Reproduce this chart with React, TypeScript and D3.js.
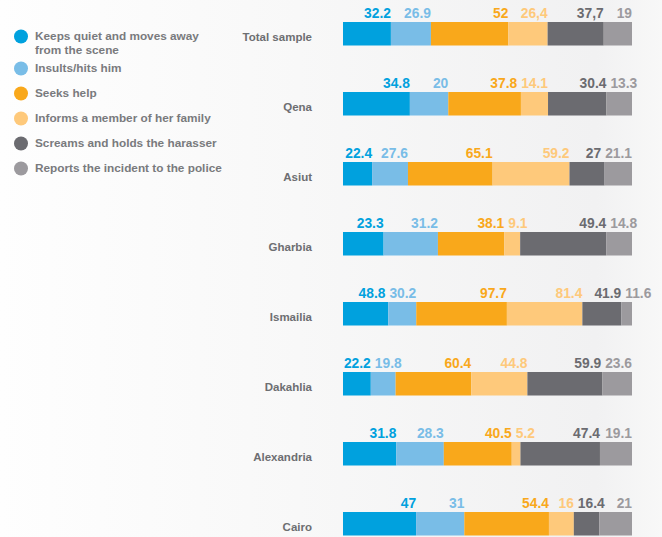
import React, { useEffect, useRef } from 'react';
import * as d3 from 'd3';

// responses of women to harassment, by governorate
const categories = ['Total sample', 'Qena', 'Asiut', 'Gharbia', 'Ismailia', 'Dakahlia', 'Alexandria', 'Cairo'];

const keepsQuiet = [32.2, 34.8, 22.4, 23.3, 48.8, 22.2, 31.8, 47];
const insultsHits = [26.9, 20, 27.6, 31.2, 30.2, 19.8, 28.3, 31];
const seeksHelp = [52, 37.8, 65.1, 38.1, 97.7, 60.4, 40.5, 54.4];
const informsFamily = [26.4, 14.1, 59.2, 9.1, 81.4, 44.8, 5.2, 16];
const screamsHolds = [37.7, 30.4, 27, 49.4, 41.9, 59.9, 47.4, 16.4];
const reportsPolice = [19, 13.3, 21.1, 14.8, 11.6, 23.6, 19.1, 21];

const seriesNames = [
  ['Keeps quiet and moves away', 'from the scene'],
  ['Insults/hits him'],
  ['Seeks help'],
  ['Informs a member of her family'],
  ['Screams and holds the harasser'],
  ['Reports the incident to the police'],
];
const colors = ['#00a1de', '#79bde7', '#f9a81b', '#fec97b', '#6b6b70', '#9c9a9e'];

// the source prints these two with a decimal comma
const commaLabels = [
  [0, 3],
  [0, 4],
];

const W = 662;
const H = 537;
const FONT = '"Liberation Sans", Arial, Helvetica, sans-serif';

export default function App() {
  const ref = useRef<SVGSVGElement>(null);

  useEffect(() => {
    document.body.style.margin = '0';
    render();
  }, []);

  const render = () => {
    const svg = d3.select(ref.current);
    svg.selectAll('*').remove();

    const series = [keepsQuiet, insultsHits, seeksHelp, informsFamily, screamsHolds, reportsPolice];

    // background
    const grad = svg
      .append('defs')
      .append('linearGradient')
      .attr('id', 'bg')
      .attr('x1', 0)
      .attr('x2', 1)
      .attr('y1', 0)
      .attr('y2', 0);
    grad.append('stop').attr('offset', '0%').attr('stop-color', '#fefefe');
    grad.append('stop').attr('offset', '45%').attr('stop-color', '#f8f8f8');
    grad.append('stop').attr('offset', '90%').attr('stop-color', '#f1f1f2');
    grad.append('stop').attr('offset', '100%').attr('stop-color', '#f8f8f8');
    svg.append('rect').attr('width', W).attr('height', H).attr('fill', 'url(#bg)');

    // rows
    const y = d3.scaleLinear().domain([0, 1]).range([22, 92]);
    const barH = 23.5;
    const x0 = 343;
    const x1 = 632;
    const gap = 4;

    categories.forEach((cat, i) => {
      const top = y(i);
      const vals = series.map((s) => s[i]);
      const total = d3.sum(vals);
      const x = d3.scaleLinear().domain([0, total]).range([x0, x1]);
      const g = svg.append('g');

      g.append('text')
        .attr('x', 312)
        .attr('y', top + 18.5)
        .attr('text-anchor', 'end')
        .attr('font-family', FONT)
        .attr('font-weight', 'bold')
        .attr('font-size', 11.5)
        .attr('fill', '#6d6e71')
        .text(cat);

      let acc = 0;
      const segs = vals.map((v) => {
        const s = { start: acc, end: acc + v, v };
        acc += v;
        return s;
      });

      g.selectAll('rect')
        .data(segs)
        .enter()
        .append('rect')
        .attr('x', (d) => x(d.start))
        .attr('y', top)
        .attr('width', (d) => x(d.end) - x(d.start))
        .attr('height', barH)
        .attr('fill', (d, j) => colors[j]);

      const labels = g
        .selectAll('text.val')
        .data(segs)
        .enter()
        .append('text')
        .attr('class', 'val')
        .attr('y', top - 4)
        .attr('font-family', FONT)
        .attr('font-weight', 'bold')
        .attr('font-size', 13.8)
        .attr('fill', (d, j) => colors[j])
        .text((d, j) => {
          const t = String(d.v);
          return commaLabels.some(([r, c]) => r === i && c === j) ? t.replace('.', ',') : t;
        });

      // right-align on segment end, or start at the segment when it is too narrow
      const nodes = labels.nodes() as SVGTextElement[];
      const place = segs.map((d, j) => {
        const w = nodes[j].getComputedTextLength();
        const sx = x(d.start);
        const ex = x(d.end);
        const fits = w <= ex - sx;
        return { start: fits ? ex - w : sx, w, fits };
      });
      // collisions: narrow-segment labels move right, otherwise the previous one moves left
      for (let j = 1; j < place.length; j++) {
        const prev = place[j - 1];
        const cur = place[j];
        const over = prev.start + prev.w + gap - cur.start;
        if (over > 0) {
          if (!cur.fits) cur.start += over;
          else prev.start -= over;
        }
      }
      nodes.forEach((n, j) => d3.select(n).attr('x', place[j].start));
    });

    // legend
    const legend = svg.append('g');
    seriesNames.forEach((lines, i) => {
      const base = i === 0 ? 40 : 72 + (i - 1) * 25;
      legend
        .append('circle')
        .attr('cx', 21)
        .attr('cy', base - 3.5)
        .attr('r', 7)
        .attr('fill', colors[i]);
      lines.forEach((line, k) => {
        legend
          .append('text')
          .attr('x', 35)
          .attr('y', base + k * 14)
          .attr('font-family', FONT)
          .attr('font-weight', 'bold')
          .attr('font-size', 11.8)
          .attr('fill', '#797a7d')
          .text(line);
      });
    });
  };

  return <svg ref={ref} width={W} height={H} style={{ display: 'block' }} />;
}
